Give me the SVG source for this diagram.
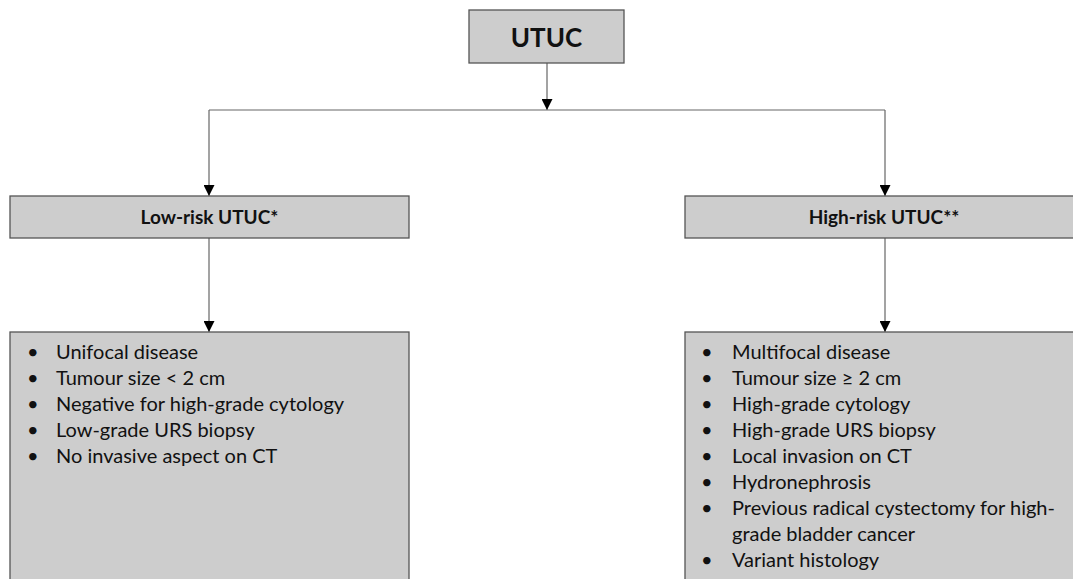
<svg xmlns="http://www.w3.org/2000/svg" width="1073" height="579" viewBox="0 0 1073 579">
<defs>
<marker id="arr" viewBox="0 0 10 10" refX="10" refY="5" markerWidth="11" markerHeight="11" markerUnits="userSpaceOnUse" orient="auto">
<path d="M0,0 L10,5 L0,10 Z" fill="#000"/>
</marker>
<style>
.box{fill:#cdcdcd;stroke:#555;stroke-width:1.3}
.ttl{font-family:Lato,"Open Sans",sans-serif;font-weight:bold;fill:#111;text-anchor:middle}
.li{font-family:Lato,"Open Sans",sans-serif;font-size:20px;fill:#111}
.con{fill:none;stroke:#666;stroke-width:1.2}
</style>
</defs>
<rect width="1073" height="579" fill="#fff"/>
<g id="connectors">
<line class="con" x1="547" y1="63" x2="547" y2="110" marker-end="url(#arr)"/>
<line class="con" x1="209" y1="110" x2="885" y2="110"/>
<line class="con" x1="209" y1="110" x2="209" y2="196" marker-end="url(#arr)"/>
<line class="con" x1="885" y1="110" x2="885" y2="196" marker-end="url(#arr)"/>
<line class="con" x1="209" y1="238" x2="209" y2="332" marker-end="url(#arr)"/>
<line class="con" x1="885" y1="238" x2="885" y2="332" marker-end="url(#arr)"/>
</g>
<g id="utuc">
<rect class="box" x="469" y="10" width="155" height="53"/>
<text class="ttl" x="546.5" y="47" font-size="26">UTUC</text>
</g>
<g id="low-risk">
<rect class="box" x="10" y="196" width="399" height="42"/>
<text class="ttl" x="209.5" y="224" font-size="19">Low-risk UTUC*</text>
</g>
<g id="high-risk">
<rect class="box" x="685" y="196" width="400" height="42"/>
<text class="ttl" x="884" y="224" font-size="19">High-risk UTUC**</text>
</g>
<g id="low-list">
<rect class="box" x="10" y="332" width="399" height="260"/>
<g class="li">
<text x="27" y="359">•</text><text x="56" y="359">Unifocal disease</text>
<text x="27" y="385">•</text><text x="56" y="385">Tumour size &lt; 2 cm</text>
<text x="27" y="411">•</text><text x="56" y="411">Negative for high-grade cytology</text>
<text x="27" y="437">•</text><text x="56" y="437">Low-grade URS biopsy</text>
<text x="27" y="463">•</text><text x="56" y="463">No invasive aspect on CT</text>
</g>
</g>
<g id="high-list">
<rect class="box" x="685" y="332" width="400" height="260"/>
<g class="li">
<text x="701" y="359">•</text><text x="732" y="359">Multifocal disease</text>
<text x="701" y="385">•</text><text x="732" y="385">Tumour size ≥ 2 cm</text>
<text x="701" y="411">•</text><text x="732" y="411">High-grade cytology</text>
<text x="701" y="437">•</text><text x="732" y="437">High-grade URS biopsy</text>
<text x="701" y="463">•</text><text x="732" y="463">Local invasion on CT</text>
<text x="701" y="489">•</text><text x="732" y="489">Hydronephrosis</text>
<text x="701" y="515">•</text><text x="732" y="515">Previous radical cystectomy for high-</text>
<text x="732" y="541">grade bladder cancer</text>
<text x="701" y="567">•</text><text x="732" y="567">Variant histology</text>
</g>
</g>
</svg>
